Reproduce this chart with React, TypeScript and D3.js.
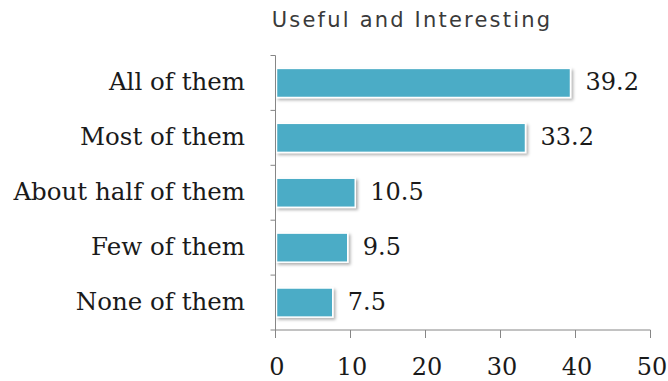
import React from "react";
import * as d3 from "d3";

const categories = ["All of them", "Most of them", "About half of them", "Few of them", "None of them"];
const values = [39.2, 33.2, 10.5, 9.5, 7.5];
const valueLabels = ["39.2", "33.2", "10.5", "9.5", "7.5"];
const xTicks = [0, 10, 20, 30, 40, 50];
const title = "Useful and Interesting";

export default function App() {
  const W = 668, H = 381;
  const x = d3.scaleLinear().domain([0, 50]).range([275.5, 650.5]);
  const y = d3.scaleBand<string>().domain(categories).range([55.5, 330]).paddingInner(0.47).paddingOuter(0.235);
  const step = y.step();
  const boundaries = d3.range(categories.length + 1).map((i) => 55.5 + i * step);
  const serif = "DejaVu Serif";
  return (
    <svg width={W} height={H} style={{ position: "absolute", left: 0, top: 0, background: "#fff" }}>
      <defs>
        <filter id="sh" x="-10%" y="-30%" width="130%" height="180%">
          <feDropShadow dx="2" dy="2" stdDeviation="1.5" floodColor="#000" floodOpacity="0.3" />
        </filter>
      </defs>
      <text x={412} y={27} textAnchor="middle" fontFamily="DejaVu Sans" fontSize={21} letterSpacing={2.2} fill="#3a3a3a">{title}</text>
      {categories.map((c, i) => (
        <g key={c}>
          <rect x={x(0) + 1} y={y(c)!} width={x(values[i]) - x(0)} height={y.bandwidth()} fill="#4bacc6" stroke="#fff" strokeWidth={1.5} filter="url(#sh)" />
          <text x={245} y={y(c)! + y.bandwidth() / 2 + 7.5} textAnchor="end" fontFamily={serif} fontSize={24.5} fill="#1a1a1a">{c}</text>
          <text x={x(values[i]) + 16} y={y(c)! + y.bandwidth() / 2 + 7.5} fontFamily={serif} fontSize={24} fill="#1a1a1a">{valueLabels[i]}</text>
        </g>
      ))}
      <line x1={x(0)} x2={x(0)} y1={55.5} y2={330} stroke="#868686" strokeWidth={1} />
      {boundaries.map((b, i) => (
        <line key={i} x1={x(0) - 5} x2={x(0)} y1={b} y2={b} stroke="#868686" />
      ))}
      <line x1={x(0)} x2={x(50)} y1={330} y2={330} stroke="#868686" />
      {xTicks.map((t) => (
        <g key={t}>
          <line x1={x(t)} x2={x(t)} y1={330} y2={338} stroke="#868686" />
          <text x={x(t) + 1.5} y={375} textAnchor="middle" fontFamily={serif} fontSize={24} fill="#1a1a1a">{t}</text>
        </g>
      ))}
    </svg>
  );
}
